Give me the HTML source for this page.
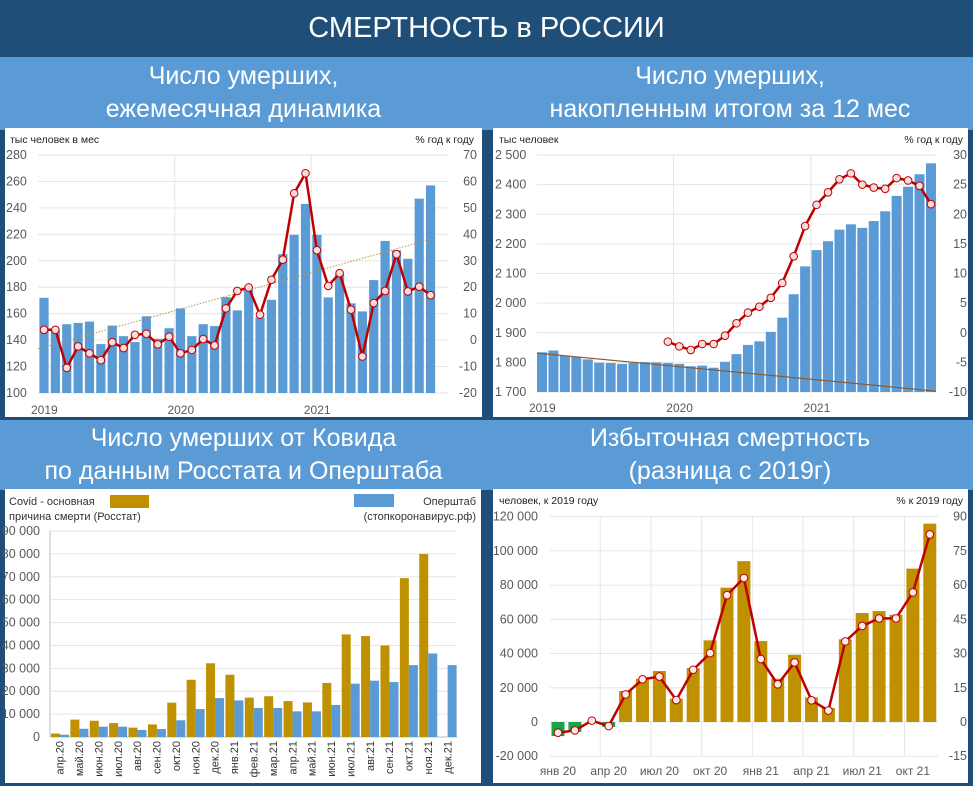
<!DOCTYPE html>
<html><head><meta charset="utf-8">
<style>
body{margin:0;width:973px;height:786px;background:#1f4e79;position:relative;overflow:hidden;font-family:"Liberation Sans","DejaVu Sans",sans-serif}
.t{position:absolute;left:0;top:0;width:973px;height:56px;background:#1f4e79;color:#fff;font-size:29px;text-align:center;line-height:56px}
.band{position:absolute;background:#5b9bd5;color:#fff;font-size:25px;text-align:center;line-height:33px}
.box{position:absolute;background:#fff}
svg{position:absolute;left:0;top:0}
</style></head><body>
<div class="t">СМЕРТНОСТЬ в РОССИИ</div>
<div class="band" style="left:0;top:57px;width:487px;height:70px;padding-top:3px">Число умерших,<br>ежемесячная динамика</div>
<div class="band" style="left:487px;top:57px;width:486px;height:70px;padding-top:3px">Число умерших,<br>накопленным итогом за 12 мес</div>
<div class="band" style="left:0;top:420px;width:487px;height:68px;padding-top:2px">Число умерших от Ковида<br>по данным Росстата и Оперштаба</div>
<div class="band" style="left:487px;top:420px;width:486px;height:68px;padding-top:2px">Избыточная смертность<br>(разница с 2019г)</div>
<div class="box" style="left:5px;top:128px;width:477px;height:289px"></div>
<div class="box" style="left:493px;top:128px;width:475px;height:289px"></div>
<div class="box" style="left:5px;top:489px;width:476px;height:294px"></div>
<div class="box" style="left:493px;top:489px;width:475px;height:294px"></div>
<svg id="s" width="973" height="786" xmlns="http://www.w3.org/2000/svg"></svg>
<script>
// Panel 1 data
const p1Bars=[172,148,152,153,154,137,151,143,138.5,158,141,149,164,143,152,150.6,172.5,162.5,178,157,170.5,205,219.6,243,219.6,172.3,190,167.8,161.7,185.4,215,208,201.5,247,257];
const p1Line=[3.9,3.9,-10.5,-2.4,-5,-7.6,-0.8,-3,2,2.4,-1.6,1.3,-5,-3.7,0.4,-2,12,18.6,19.9,9.6,22.8,30.4,55.5,63.1,34,20.5,25.3,11.5,-6.2,14,18.6,32.5,18.4,20.2,17];
const p1LeftTicks=[100,120,140,160,180,200,220,240,260,280];
const p1RightTicks=[-20,-10,0,10,20,30,40,50,60,70];
const p1Years=["2019","2020","2021"];
// Panel 2 data
const p2Bars=[1834,1840,1823,1818,1810,1799,1798,1795,1798,1801,1800,1798,1795,1787,1789,1782,1802,1828,1859,1871,1903,1951,2030,2124,2179,2209,2248,2266,2254,2277,2310,2362,2393,2435,2472];
const p2Line=[null,null,null,null,null,null,null,null,null,null,null,-1.5,-2.3,-2.9,-1.9,-1.9,-0.5,1.6,3.4,4.4,5.9,8.4,12.9,18,21.6,23.7,25.9,26.9,25,24.5,24.3,26.1,25.7,24.8,21.7];
const p2LeftTicks=[1700,1800,1900,2000,2100,2200,2300,2400,2500];
const p2RightTicks=[-10,-5,0,5,10,15,20,25,30];
// Panel 3 data
const p3Cats=["апр.20","май.20","июн.20","июл.20","авг.20","сен.20","окт.20","ноя.20","дек.20","янв.21","фев.21","мар.21","апр.21","май.21","июн.21","июл.21","авг.21","сен.21","окт.21","ноя.21","дек.21"];
const p3Rosstat=[1500,7600,7100,6100,4100,5500,15000,25000,32200,27200,17200,17800,15700,15100,23600,44800,44100,40000,69400,80000,null];
const p3Oper=[1000,3600,4500,4500,3100,3500,7300,12200,17000,16000,12700,12700,11200,11200,14000,23300,24600,24000,31400,36500,31400];
const p3Ticks=[0,10000,20000,30000,40000,50000,60000,70000,80000,90000];
// Panel 4 data
const p4Bars=[-8200,-5800,0,-2900,18100,25300,29800,13600,31500,47700,78500,94000,47300,25300,39300,14400,8200,48300,63700,64800,62700,89600,115900];
const p4Line=[-4.7,-3.7,0.6,-1.8,12.1,18.7,19.9,9.6,22.9,30.2,55.6,63.1,27.6,16.5,26.1,9.5,5,35.3,42.1,45.4,45.4,56.8,82.2];
const p4LeftTicks=[-20000,0,20000,40000,60000,80000,100000,120000];
const p4RightTicks=[-15,0,15,30,45,60,75,90];
const p4XLabels=["янв 20","апр 20","июл 20","окт 20","янв 21","апр 21","июл 21","окт 21"];

const S=document.getElementById('s');
const NS='http://www.w3.org/2000/svg';
function mk(tag,at,txt){const e=document.createElementNS(NS,tag);for(const k in at)e.setAttribute(k,at[k]);if(txt!=null)e.textContent=txt;S.appendChild(e);return e;}
function fmt(v){const s=Math.abs(v).toString().replace(/\B(?=(\d{3})+(?!\d))/g,' ');return (v<0?'-':'')+s;}
const TC='#595959',GC='#e6e6e6';
function lbl(x,y,t,anchor,size,col){const e=mk('text',{x:x,y:y,'text-anchor':anchor||'start','font-size':size||12.5,fill:col||TC},t);return e;}
function markers(pts,name,fill){let d='';pts.forEach((p,i)=>{d+=(i?'L':'M')+p[0]+' '+p[1];});
 const pl=mk('path',{d:d,fill:'none',stroke:'#c00000','stroke-width':2.5});
 
 
 pts.forEach(p=>{const c=mk('circle',{cx:p[0],cy:p[1],r:3.8,fill:fill,stroke:'#c00000','stroke-width':1});
 
 });}
function regress(vals,n){let sx=0,sy=0,sxx=0,sxy=0;for(let i=0;i<n;i++){sx+=i;sy+=vals[i];sxx+=i*i;sxy+=i*vals[i];}const b=(n*sxy-sx*sy)/(n*sxx-sx*sx);return [(sy-b*sx)/n,b];}

// ---------- Panel 1 ----------
(function(){
 const x=i=>44+i*11.37, yL=v=>393-(v-100)*(238/180), yR=v=>393-(v+20)*(238/90);
 lbl(10,143,'тыс человек в мес','start',10.5,'#222');
 lbl(474,143,'% год к году','end',10.5,'#222');
 p1LeftTicks.forEach(t=>{const g=mk('line',{x1:38,x2:448,y1:yL(t),y2:yL(t),stroke:GC});
  
  
  lbl(6,yL(t)+4,String(t));});
 p1RightTicks.forEach(t=>{lbl(477,yR(t)+4,String(t),'end');});
 [12,24].forEach(i=>{mk('line',{x1:x(i)-5.7,x2:x(i)-5.7,y1:155,y2:393,stroke:GC});});
 p1Years.forEach((y,k)=>{lbl(x(k*12)-13,414,y,'start',12);});
 p1Bars.forEach((v,i)=>{const r=mk('rect',{x:x(i)-4.6,y:yL(v),width:9.2,height:393-yL(v),fill:'#5b9bd5'});
  
  });
 const [a,b]=regress(p1Bars,p1Bars.length);
 const tl=mk('line',{x1:38,y1:yL(a+b*(-0.5)),x2:x(34),y2:yL(a+b*34),stroke:'#b59a3c','stroke-width':1,'stroke-dasharray':'1.5 1.5'});
 
 
 markers(p1Line.map((v,i)=>[x(i),yR(v)]),'p1-yoy','#f6dcdc');
})();

// ---------- Panel 2 ----------
(function(){
 const x=i=>542+i*11.44, yL=v=>392-(v-1700)*(237/800), yR=v=>392-(v+10)*(237/40);
 lbl(499,143,'тыс человек','start',10.5,'#222');
 lbl(963,143,'% год к году','end',10.5,'#222');
 p2LeftTicks.forEach(t=>{mk('line',{x1:537,x2:937,y1:yL(t),y2:yL(t),stroke:GC});lbl(495,yL(t)+4,fmt(t));});
 p2RightTicks.forEach(t=>{lbl(967,yR(t)+4,String(t),'end');});
 [12,24].forEach(i=>{mk('line',{x1:x(i)-5.7,x2:x(i)-5.7,y1:155,y2:392,stroke:GC});});
 p1Years.forEach((y,k)=>{lbl(x(k*12)-13,412,y,'start',12);});
 p2Bars.forEach((v,i)=>{const r=mk('rect',{x:x(i)-5,y:yL(v),width:10,height:392-yL(v),fill:'#5b9bd5'});
  
  });
 const [a,b]=regress(p2Bars,12);
 const tl=mk('line',{x1:x(0)-5,y1:yL(a-b*0.4),x2:x(34)+5,y2:yL(a+b*34.4),stroke:'#8b5a2b','stroke-width':1.2});
 
 
 const pts=[];p2Line.forEach((v,i)=>{if(v!=null)pts.push([x(i),yR(v)]);});
 markers(pts,'p2-yoy','#f6dcdc');
})();

// ---------- Panel 3 ----------
(function(){
 const gw=(457-50)/21, y=v=>737-v*(206/90000);
 lbl(9,505,'Covid - основная','start',11,'#333');
 lbl(9,520,'причина смерти (Росстат)','start',11,'#333');
 const lg=mk('rect',{x:110,y:495,width:39,height:13,fill:'#bf9000'});
 
 
 const lb=mk('rect',{x:354,y:494,width:40,height:13,fill:'#5b9bd5'});
 
 
 lbl(476,505,'Оперштаб','end',11,'#333');
 lbl(476,520,'(стопкоронавирус.рф)','end',11,'#333');
 p3Ticks.forEach(t=>{mk('line',{x1:50,x2:457,y1:y(t),y2:y(t),stroke:GC});lbl(40,y(t)+4,fmt(t),'end');});
 mk('line',{x1:50,x2:50,y1:531,y2:737,stroke:'#bfbfbf'});
 mk('line',{x1:50,x2:457,y1:737,y2:737,stroke:'#bfbfbf'});
 p3Cats.forEach((c,g)=>{const cx=50+g*gw+gw/2;
  const t=lbl(0,0,c,'end',11,'#333');t.setAttribute('transform','translate('+(cx+4)+',741) rotate(-90)');
  if(p3Rosstat[g]!=null){const r=mk('rect',{x:50+g*gw+1,y:y(p3Rosstat[g]),width:9,height:737-y(p3Rosstat[g]),fill:'#bf9000'});
   
   }
  const b=mk('rect',{x:50+g*gw+10,y:y(p3Oper[g]),width:9,height:737-y(p3Oper[g]),fill:'#5b9bd5'});
  
  });
})();

// ---------- Panel 4 ----------
(function(){
 const x=i=>558+i*16.9, yL=v=>722-v*(34.23/20000), yR=v=>722-v*(34.23/15);
 lbl(499,504,'человек, к 2019 году','start',10.5,'#222');
 lbl(963,504,'% к 2019 году','end',10.5,'#222');
 p4LeftTicks.forEach(t=>{mk('line',{x1:550,x2:938,y1:yL(t),y2:yL(t),stroke:GC});lbl(538,yL(t)+4,fmt(t),'end');});
 p4RightTicks.forEach(t=>{lbl(967,yR(t)+4,String(t),'end');});
 for(let q=1;q<8;q++){mk('line',{x1:x(q*3)-8.45,x2:x(q*3)-8.45,y1:516,y2:756,stroke:GC});}
 p4XLabels.forEach((l,k)=>{lbl(x(k*3),775,l,'middle',12);});
 p4Bars.forEach((v,i)=>{const top=Math.min(yL(v),yL(0)),h=Math.abs(yL(v)-yL(0));
  const r=mk('rect',{x:x(i)-6.5,y:top,width:13,height:h,fill:v<0?'#1aa34a':'#bf9000'});
  
  });
 markers(p4Line.map((v,i)=>[x(i),yR(v)]),'p4-pct','#fbeaea');
})();
</script>
</body></html>
